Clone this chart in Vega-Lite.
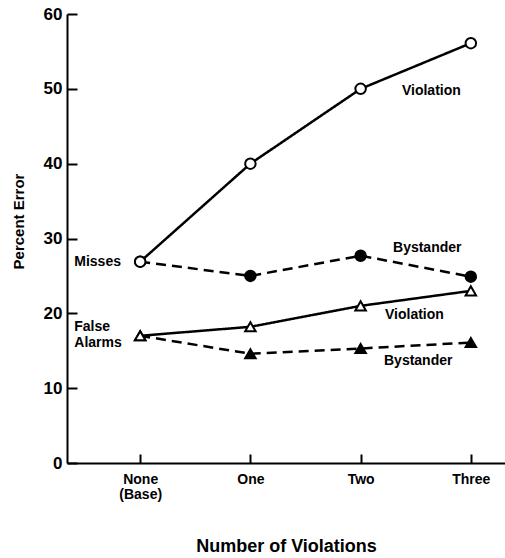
{
  "$schema": "https://vega.github.io/schema/vega-lite/v6.json",
  "width": 438,
  "height": 449,
  "autosize": "none",
  "padding": {"left": 67, "top": 14, "right": 0, "bottom": 95},
  "background": "white",
  "config": {"view": {"stroke": null}, "font": "Liberation Sans"},
  "datasets": {
    "series": [
      {"n": 0, "group": "Misses", "cond": "Bystander", "v": 26.9},
      {"n": 1, "group": "Misses", "cond": "Bystander", "v": 25.0},
      {"n": 2, "group": "Misses", "cond": "Bystander", "v": 27.7},
      {"n": 3, "group": "Misses", "cond": "Bystander", "v": 24.9},
      {"n": 0, "group": "False Alarms", "cond": "Bystander", "v": 17.0},
      {"n": 1, "group": "False Alarms", "cond": "Bystander", "v": 14.6},
      {"n": 2, "group": "False Alarms", "cond": "Bystander", "v": 15.3},
      {"n": 3, "group": "False Alarms", "cond": "Bystander", "v": 16.1},
      {"n": 0, "group": "Misses", "cond": "Violation", "v": 26.9},
      {"n": 1, "group": "Misses", "cond": "Violation", "v": 40.0},
      {"n": 2, "group": "Misses", "cond": "Violation", "v": 50.0},
      {"n": 3, "group": "Misses", "cond": "Violation", "v": 56.1},
      {"n": 0, "group": "False Alarms", "cond": "Violation", "v": 17.0},
      {"n": 1, "group": "False Alarms", "cond": "Violation", "v": 18.2},
      {"n": 2, "group": "False Alarms", "cond": "Violation", "v": 21.0},
      {"n": 3, "group": "False Alarms", "cond": "Violation", "v": 23.0}
    ],
    "labels": [
      {"t": "Violation", "n": 2.375, "v": 49.7},
      {"t": "Bystander", "n": 2.294, "v": 28.7},
      {"t": "Violation", "n": 2.221, "v": 19.8},
      {"t": "Bystander", "n": 2.212, "v": 13.6},
      {"t": "Misses", "n": -0.598, "v": 26.9},
      {"t": "False", "n": -0.598, "v": 18.2},
      {"t": "Alarms", "n": -0.598, "v": 16.0}
    ]
  },
  "encoding": {
    "x": {
      "field": "n",
      "type": "quantitative",
      "scale": {"domain": [-0.664, 3.31], "nice": false, "zero": false},
      "axis": {
        "values": [0, 1, 2, 3],
        "labelExpr": "datum.value == 0 ? ['None','(Base)'] : datum.value == 1 ? 'One' : datum.value == 2 ? 'Two' : 'Three'",
        "title": "Number of Violations",
        "grid": false,
        "tickSize": -9,
        "tickWidth": 2,
        "tickColor": "black",
        "domainWidth": 2,
        "domainColor": "black",
        "labelPadding": 18,
        "labelColor": "black",
        "labelFont": "Liberation Sans",
        "labelFontSize": 14,
        "labelFontWeight": "bold",
        "labelLineHeight": 15,
        "labelFlush": false,
        "labelOverlap": false,
        "titleFont": "Liberation Sans",
        "titleFontSize": 18,
        "titleFontWeight": "bold",
        "titleColor": "black",
        "titleBaseline": "alphabetic",
        "titleY": 88
      }
    },
    "y": {
      "field": "v",
      "type": "quantitative",
      "scale": {"domain": [0, 60], "nice": false, "zero": true},
      "axis": {
        "values": [0, 10, 20, 30, 40, 50, 60],
        "title": "Percent Error",
        "grid": false,
        "tickSize": -10,
        "tickWidth": 2,
        "tickColor": "black",
        "domainWidth": 2,
        "domainColor": "black",
        "labelPadding": 15,
        "labelColor": "black",
        "labelFont": "Liberation Sans",
        "labelFontSize": 17,
        "labelFontWeight": "bold",
        "labelFlush": false,
        "labelOverlap": false,
        "titleFont": "Liberation Sans",
        "titleFontSize": 15,
        "titleFontWeight": "bold",
        "titleColor": "black",
        "titleBaseline": "middle",
        "titleX": -49,
        "titleY": 207
      }
    }
  },
  "layer": [
    {
      "data": {"name": "series"},
      "mark": {"type": "line", "strokeWidth": 2.5, "color": "black"},
      "encoding": {
        "detail": {"field": "group"},
        "strokeDash": {
          "field": "cond",
          "type": "nominal",
          "scale": {"domain": ["Violation", "Bystander"], "range": [[1, 0], [10, 6]]},
          "legend": null
        }
      }
    },
    {
      "data": {"name": "series"},
      "mark": {"type": "point", "filled": true, "stroke": "black", "strokeWidth": 2, "size": 110, "opacity": 1},
      "encoding": {
        "shape": {
          "field": "group",
          "type": "nominal",
          "scale": {"domain": ["Misses", "False Alarms"], "range": ["circle", "triangle-up"]},
          "legend": null
        },
        "fill": {
          "field": "cond",
          "type": "nominal",
          "scale": {"domain": ["Violation", "Bystander"], "range": ["white", "black"]},
          "legend": null
        }
      }
    },
    {
      "data": {"name": "labels"},
      "mark": {"type": "text", "align": "left", "baseline": "middle", "font": "Liberation Sans", "fontSize": 14, "fontWeight": "bold", "color": "black"},
      "encoding": {
        "text": {"field": "t"}
      }
    }
  ]
}
